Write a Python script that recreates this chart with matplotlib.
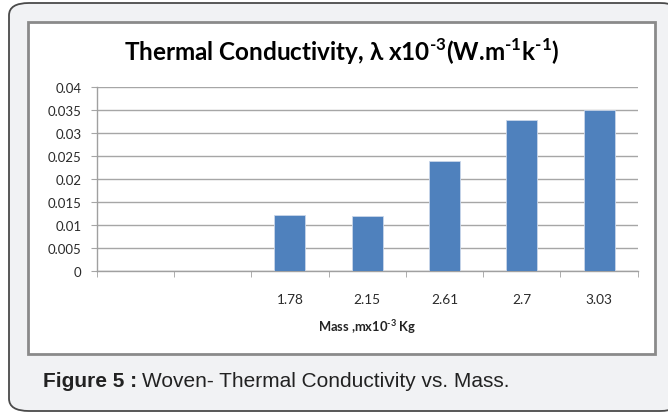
import matplotlib
matplotlib.use("Agg")
import matplotlib.pyplot as plt
from matplotlib.patches import FancyBboxPatch, Rectangle
import numpy as np

categories = ["", "", "1.78", "2.15", "2.61", "2.7", "3.03"]
values = [None, None, 0.0123, 0.0120, 0.0240, 0.0329, 0.0351]
yticks = [0, 0.005, 0.01, 0.015, 0.02, 0.025, 0.03, 0.035, 0.04]
ytick_labels = ["0", "0.005", "0.01", "0.015", "0.02", "0.025", "0.03", "0.035", "0.04"]

plt.rcParams['mathtext.fontset'] = 'custom'
plt.rcParams['mathtext.rm'] = 'Lato:bold'
plt.rcParams['mathtext.bf'] = 'Lato:bold'

W, H = 668, 414
fig = plt.figure(figsize=(W / 100, H / 100), dpi=100)
fig.patch.set_facecolor("white")

def fx(x):
    return x / W

def fy(y):
    return 1 - y / H

# outer rounded panel
panel = FancyBboxPatch((fx(9), fy(412)), fx(668 - 9 + 12), fy(4) - fy(412),
                       boxstyle="round,pad=0,rounding_size=0.03",
                       transform=fig.transFigure, facecolor="#f1f2f4",
                       edgecolor="#4a4a4a", linewidth=1.3, zorder=0)
fig.patches.append(panel)

# chart frame
frame = Rectangle((fx(28), fy(355)), fx(655) - fx(28), fy(23) - fy(355),
                  transform=fig.transFigure, facecolor="white",
                  edgecolor="#8a8a8a", linewidth=2.0, zorder=1)
fig.patches.append(frame)

ax = fig.add_axes([fx(96.7), fy(272), fx(637.8) - fx(96.7), fy(88.3) - fy(272)])
ax.set_zorder(2)
ax.set_facecolor("none")

x = np.arange(len(categories))
for xi, v in zip(x, values):
    if v is not None:
        ax.bar(xi, v, width=0.4, color="#4f81bd", edgecolor="#c9d6ea",
               linewidth=0.6, zorder=3)

ax.set_xlim(-0.5, len(categories) - 0.5)
ax.set_ylim(0, 0.04)
ax.set_yticks(yticks)
ax.set_yticklabels(ytick_labels, fontfamily="Lato", fontsize=9.5, color="#2a2a2a")
ax.set_xticks(x)
ax.set_xticklabels(categories, fontfamily="Lato", fontsize=9.8, color="#2a2a2a")
ax.set_xticks(np.arange(-0.5, len(categories)), minor=True)
ax.tick_params(axis="x", which="major", length=0, pad=15.5)
ax.tick_params(axis="x", which="minor", length=4, color="#a0a0a0", direction="out")
ax.tick_params(axis="y", length=4.3, color="#a6a6a6", direction="out", pad=6.5)

ax.grid(axis="y", color="#a6a6a6", linewidth=1.0, zorder=0)
ax.set_axisbelow(True)
for s in ["top", "right"]:
    ax.spines[s].set_visible(False)
for s in ["left", "bottom"]:
    ax.spines[s].set_color("#a0a0a0")
    ax.spines[s].set_linewidth(1.0)

ax.set_xlabel(r"Mass ,mx10$^{\text{-3}}$ Kg", fontfamily="Lato",
              fontweight="bold", fontsize=9.3, color="#222222", labelpad=9)

fig.text(fx(342), fy(52), r"Thermal Conductivity, λ x10$^{\text{-3}}$(W.m$^{\text{-1}}$k$^{\text{-1}}$)",
         fontfamily="Lato", fontweight="bold", fontsize=17.5, color="black",
         ha="center", va="center", zorder=5)

t1 = fig.text(fx(43), fy(382), "Figure 5 :", fontfamily="Liberation Sans",
              fontweight="bold", fontsize=15, color="#222222", ha="left",
              va="center", zorder=5)
fig.canvas.draw()
bb = t1.get_window_extent()
fig.text(bb.x1 / W + fx(5), fy(382), "Woven- Thermal Conductivity vs. Mass.",
         fontfamily="Liberation Sans", fontsize=15, color="#222222",
         ha="left", va="center", zorder=5)

fig.savefig("out.png", dpi=100, facecolor=fig.get_facecolor())
